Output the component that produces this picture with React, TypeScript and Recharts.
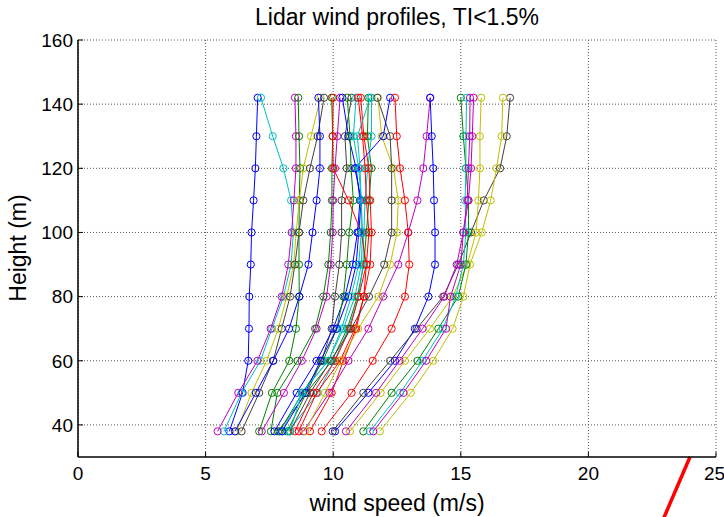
import React from "react";
import {
  LineChart,
  Line,
  XAxis,
  YAxis,
  CartesianGrid,
  ReferenceLine,
} from "recharts";

// lidar measurement heights (m), bottom to top
const HEIGHTS = [38, 50, 60, 70, 80, 90, 100, 110, 120, 130, 142];

const X_TICKS = [0, 5, 10, 15, 20, 25];
const Y_TICKS = [40, 60, 80, 100, 120, 140, 160];

// MATLAB colour cycle
const C = {
  b: "#0000ff",
  g: "#008000",
  r: "#ff0000",
  c: "#00bfbf",
  m: "#bf00bf",
  y: "#bfbf00",
  k: "#404040",
};

// wind speed (m/s) at each height, one profile per row
const PROFILE_COLORS = [
  "b", "c", "m", "g", "y", "k", "b", "k", "g", "m", "b", "g", "c", "g", "c", "r",
  "r", "r", "m", "y", "k", "b", "c", "r", "b", "k", "y", "y", "g", "c", "m", "m",
];
const PROFILES = [
  [5.93, 6.45, 6.67, 6.7, 6.71, 6.77, 6.8, 6.88, 6.95, 6.99, 7.04],
  [5.72, 6.41, 7.15, 7.6, 8.05, 8.35, 8.44, 8.35, 8.05, 7.63, 7.17],
  [5.47, 6.28, 7.03, 7.55, 7.98, 8.24, 8.37, 8.46, 8.54, 8.54, 8.5],
  [7.1, 7.6, 8.28, 8.54, 8.67, 8.66, 8.66, 8.67, 8.7, 8.66, 8.63],
  [6.22, 6.8, 7.39, 7.85, 8.18, 8.45, 8.55, 8.67, 8.83, 9.13, 9.5],
  [6.41, 7.1, 7.65, 7.98, 8.31, 8.5, 8.66, 8.83, 9.09, 9.39, 9.64],
  [6.15, 6.97, 7.65, 8.27, 8.67, 9.03, 9.19, 9.35, 9.48, 9.48, 9.42],
  [7.84, 8.96, 9.55, 9.94, 10.07, 10.24, 10.33, 10.33, 10.53, 10.46, 10.72],
  [7.56, 7.81, 8.6, 9.29, 9.61, 9.81, 9.9, 9.95, 9.95, 9.98, 9.94],
  [7.2, 8.07, 8.77, 9.35, 9.74, 9.9, 9.98, 10.0, 10.07, 10.16, 10.27],
  [7.7, 8.57, 9.35, 10.0, 10.46, 10.76, 10.95, 11.05, 10.9, 10.6, 10.36],
  [7.9, 8.8, 9.6, 10.14, 10.4, 10.53, 10.63, 10.79, 10.7, 10.66, 10.55],
  [7.98, 8.77, 9.81, 10.4, 10.85, 11.1, 11.15, 11.1, 11.0, 10.79, 10.9],
  [8.2, 8.95, 9.95, 10.55, 10.95, 11.2, 11.3, 11.4, 11.5, 11.34, 11.38],
  [8.25, 9.4, 10.05, 10.6, 11.0, 11.17, 11.2, 11.25, 11.35, 11.5, 11.5],
  [8.5, 9.22, 10.07, 10.65, 11.0, 11.3, 11.4, 11.3, 11.25, 11.15, 10.98],
  [8.65, 9.35, 10.27, 10.85, 11.2, 11.45, 11.5, 11.45, 11.4, 11.2, 11.08],
  [9.09, 9.94, 10.4, 10.9, 11.2, 11.3, 11.1, 10.6, 10.0, 9.98, 10.0],
  [8.83, 9.85, 10.6, 11.38, 11.96, 12.55, 12.94, 13.3, 13.53, 13.66, 13.8],
  [8.9, 9.68, 10.3, 10.98, 11.77, 12.23, 12.5, 12.55, 12.36, 11.9, 11.75],
  [8.31, 9.1, 9.9, 10.7, 11.4, 12.0, 12.29, 12.29, 12.29, 12.23, 11.73],
  [8.0, 8.9, 9.5, 10.14, 10.6, 10.9, 11.0, 11.1, 10.85, 11.96, 12.23],
  [8.31, 8.77, 9.81, 10.33, 10.7, 11.0, 11.1, 11.1, 11.05, 10.95, 11.45],
  [9.55, 10.72, 11.55, 12.29, 12.81, 12.98, 12.94, 12.81, 12.62, 12.49, 12.42],
  [10.07, 11.38, 12.42, 13.2, 13.73, 13.99, 13.99, 13.95, 13.92, 13.86, 13.8],
  [9.98, 11.18, 12.23, 13.27, 14.31, 14.9, 15.4, 15.9, 16.54, 16.8, 16.93],
  [11.83, 13.04, 13.92, 14.68, 15.1, 15.36, 15.82, 16.17, 16.4, 16.6, 16.65],
  [10.66, 11.86, 12.81, 13.79, 14.68, 15.25, 15.6, 15.69, 15.75, 15.75, 15.8],
  [11.18, 12.29, 13.3, 14.12, 14.9, 15.2, 15.3, 15.3, 15.2, 15.1, 15.0],
  [11.44, 12.62, 13.5, 14.3, 14.8, 15.1, 15.2, 15.17, 15.2, 15.2, 15.23],
  [11.57, 12.75, 13.64, 14.42, 14.6, 15.0, 15.1, 15.25, 15.3, 15.35, 15.36],
  [10.5, 11.68, 12.6, 13.5, 14.35, 14.84, 15.1, 15.3, 15.4, 15.45, 15.5],
];

// stray red stroke below the axes, bottom right
const RED_STROKE = [
  { x: 23.98, y: 30 },
  { x: 22.9, y: 10 },
];

const FONT = "'Liberation Sans', Arial, Helvetica, sans-serif";

export default function App() {
  const series = PROFILES.map((speeds, i) => ({
    color: C[PROFILE_COLORS[i] as keyof typeof C],
    data: HEIGHTS.map((h, j) => ({ x: speeds[j], y: h })),
  }));

  return (
    <div
      style={{
        position: "absolute",
        left: 0,
        top: 0,
        width: 724,
        height: 517,
        background: "#fff",
        fontFamily: FONT,
        overflow: "hidden",
      }}
    >
      <div
        style={{
          position: "absolute",
          left: 0,
          width: 794,
          top: 4,
          textAlign: "center",
          fontSize: 23,
          color: "#000",
        }}
      >
        Lidar wind profiles, TI&lt;1.5%
      </div>
      <div
        style={{
          position: "absolute",
          left: 18,
          top: 248,
          transform: "translate(-50%, -50%) rotate(-90deg)",
          fontSize: 23,
          whiteSpace: "nowrap",
          color: "#000",
        }}
      >
        Height (m)
      </div>
      <LineChart
        width={724}
        height={517}
        margin={{ top: 40, right: 8, left: 0, bottom: 0 }}
        style={{ fontFamily: FONT }}
      >
        <CartesianGrid
          stroke="#555"
          strokeDasharray="1 2"
          verticalValues={X_TICKS}
          horizontalValues={Y_TICKS}
        />
        <XAxis
          type="number"
          dataKey="x"
          domain={[0, 25]}
          ticks={X_TICKS}
          allowDataOverflow
          height={60}
          tickSize={-5}
          tickMargin={15}
          tick={{ fill: "#000", fontSize: 19 }}
          axisLine={{ stroke: "#000", strokeWidth: 1.5 }}
          tickLine={{ stroke: "#000" }}
          label={{
            value: "wind speed (m/s)",
            position: "insideBottom",
            offset: 6,
            fill: "#000",
            fontSize: 23,
          }}
        />
        <XAxis
          xAxisId="top"
          orientation="top"
          type="number"
          domain={[0, 25]}
          ticks={X_TICKS}
          height={0}
          tick={false}
          tickSize={-5}
          axisLine={{ stroke: "#000", strokeWidth: 1.5 }}
          tickLine={{ stroke: "#000" }}
        />
        <YAxis
          type="number"
          dataKey="y"
          domain={[30, 160]}
          ticks={Y_TICKS}
          allowDataOverflow
          width={78}
          tickSize={-5}
          tickMargin={10}
          tick={{ fill: "#000", fontSize: 19 }}
          axisLine={{ stroke: "#000", strokeWidth: 1.5 }}
          tickLine={{ stroke: "#000" }}
        />
        <YAxis
          yAxisId="right"
          orientation="right"
          type="number"
          domain={[30, 160]}
          ticks={Y_TICKS}
          width={0}
          tick={false}
          tickSize={-5}
          axisLine={{ stroke: "#000", strokeWidth: 1.5 }}
          tickLine={{ stroke: "#000" }}
        />
        {series.map((s, i) => (
          <Line
            key={i}
            data={s.data}
            dataKey="y"
            type="linear"
            stroke={s.color}
            strokeWidth={1}
            dot={{ r: 3.6, fill: "none", stroke: s.color, strokeWidth: 1 }}
            isAnimationActive={false}
          />
        ))}
        <ReferenceLine
          segment={RED_STROKE}
          stroke="#ff0000"
          strokeWidth={3.5}
          ifOverflow="visible"
        />
      </LineChart>
    </div>
  );
}
